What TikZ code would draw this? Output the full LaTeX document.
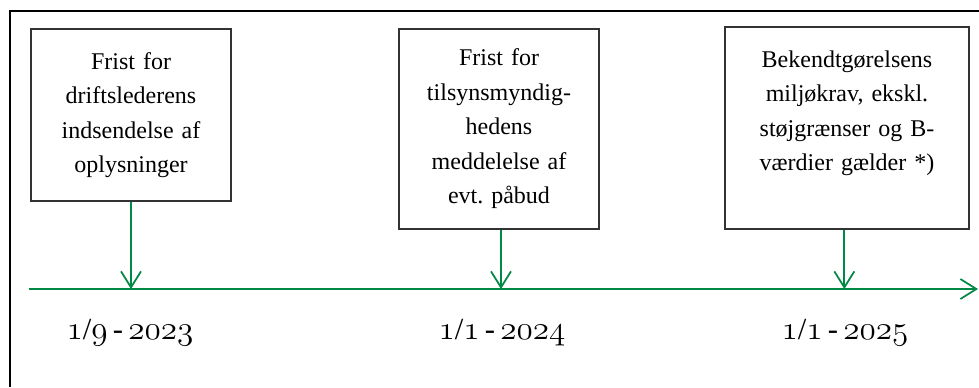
\documentclass[tikz,border=0pt]{standalone}
\usepackage{fontspec}
\setmainfont{Liberation Serif}[WordSpace=0.7]
\usetikzlibrary{arrows.meta}
\definecolor{tlgreen}{RGB}{0,136,68}
\newcommand{\osn}[1]{{\usefont{OML}{cmm}{m}{it}#1}}
\frenchspacing

\begin{document}
\begin{tikzpicture}[x=0.75pt,y=-0.75pt,
	eventbox/.style={draw=black!80,line width=0.8pt,align=center,
		text width=140pt,minimum width=150pt,inner sep=0pt,
		font=\fontsize{18}{25.9}\selectfont},
	datelbl/.style={font=\fontsize{23}{26}\selectfont},
	tlarrow/.style={draw=tlgreen,line width=1.3pt,
		-{Straight Barb[length=12pt,width=15pt,line width=1.3pt]}}]
	\useasboundingbox (0,0) rectangle (979,387);
	\draw[line width=2pt] (10,387)--(10,11)--(979,11);
	
	\node[eventbox,minimum height=129pt] (frist1) at (131,115)
		{Frist for\\driftslederens\\indsendelse af\\oplysninger};
	\node[eventbox,minimum height=150pt] (frist2) at (499,129)
		{Frist for\\tilsynsmyndig-\\hedens\\meddelelse af\\evt. påbud};
	\node[eventbox,text width=170pt,minimum width=183pt,minimum height=151.5pt] (krav) at (847,128)
		{Bekendtgørelsens\\miljøkrav, ekskl.\\støjgrænser og B-\\værdier gælder *)\\\mbox{}};
	
	\coordinate (tlstart) at (29,289);
	\coordinate (tlend) at (978,289);
	\draw[tlarrow] (tlstart)--(tlend);
	
	\draw[tlarrow] (frist1.south)--(frist1.south |- tlstart);
	\draw[tlarrow] ([xshift=1.5pt]frist2.south)--([xshift=1.5pt]frist2.south |- tlstart);
	\draw[tlarrow] ([xshift=-2pt]krav.south)--([xshift=-2pt]krav.south |- tlstart);
	
	\node[datelbl] (dato1) at (130,333) {\osn{1}/\osn{9} - \osn{2023}};
	\node[datelbl] (dato2) at (502,333) {\osn{1}/\osn{1} - \osn{2024}};
	\node[datelbl] (dato3) at (845,333) {\osn{1}/\osn{1} - \osn{2025}};
\end{tikzpicture}
\end{document}
